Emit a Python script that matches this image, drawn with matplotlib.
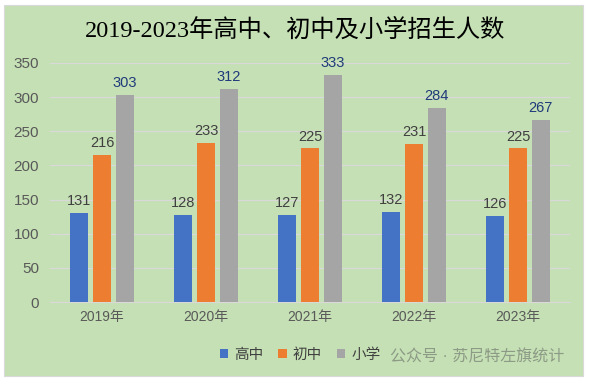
import matplotlib.pyplot as plt
import matplotlib.patches as patches
import numpy as np

plt.rcParams['font.family'] = ['Liberation Sans', 'Noto Sans CJK SC', 'DejaVu Sans']

years = ['2019年', '2020年', '2021年', '2022年', '2023年']
series_names = ['高中', '初中', '小学']
high = [131, 128, 127, 132, 126]
middle = [216, 233, 225, 231, 225]
primary = [303, 312, 333, 284, 267]
colors = ['#4472C4', '#ED7D31', '#A5A5A5']
label_colors = ['#404040', '#404040', '#1F3A7A']

bg = '#C5E0B4'

fig = plt.figure(figsize=(5.9, 3.81), dpi=100)
fig.patch.set_facecolor('white')
# green chart area with thin border
fig.patches.append(patches.Rectangle((4/590, 5/381), 579/590, 371/381, transform=fig.transFigure,
                                     facecolor=bg, edgecolor='#D9D9D9', linewidth=0.8, zorder=-1))

ax = fig.add_axes([50/590, 1 - 302/381, 520/590, 239/381])
ax.set_facecolor(bg)

x = np.arange(len(years))
w = 0.18
step = 0.22
for i, (vals, c, lc) in enumerate(zip([high, middle, primary], colors, label_colors)):
    xs = x + (i - 1) * step
    ax.bar(xs, vals, width=w, color=c, label=series_names[i], zorder=3)
    for xx, v in zip(xs, vals):
        ax.text(xx, v + 7, str(v), ha='center', va='bottom', fontsize=10.5, color=lc, zorder=4)

ax.set_xlim(-0.5, 4.5)
ax.set_ylim(0, 350)
ax.set_yticks(range(0, 351, 50))
ax.set_xticks(x)
ax.set_xticklabels(years, fontsize=10, color='#595959')
ax.tick_params(axis='y', labelsize=11, labelcolor='#595959', length=0, pad=8)
ax.tick_params(axis='x', length=0, pad=6)
ax.grid(axis='y', color='#D9D9D9', linewidth=0.9, zorder=0)
for s in ['top', 'right', 'left']:
    ax.spines[s].set_visible(False)
ax.spines['bottom'].set_color('#D9D9D9')

fig.text(0.5, 1 - 30/381, '2019-2023年高中、初中及小学招生人数', ha='center', va='center',
         fontsize=17.5, color='black', family=['Liberation Serif', 'Noto Sans CJK SC'])

leg = ax.legend(loc='center', bbox_to_anchor=(300/590, 1 - 355/381), bbox_transform=fig.transFigure,
                ncol=3, frameon=False, fontsize=10.5, handlelength=0.6, handleheight=0.6,
                handletextpad=0.4, columnspacing=1.0)
for t in leg.get_texts():
    t.set_color('#404040')

fig.text(477/590, 1 - 357/381, '公众号 · 苏尼特左旗统计', ha='center', va='center',
         fontsize=11.5, color='#8C9A86')

fig.savefig('out.png', dpi=100, facecolor=fig.get_facecolor())
